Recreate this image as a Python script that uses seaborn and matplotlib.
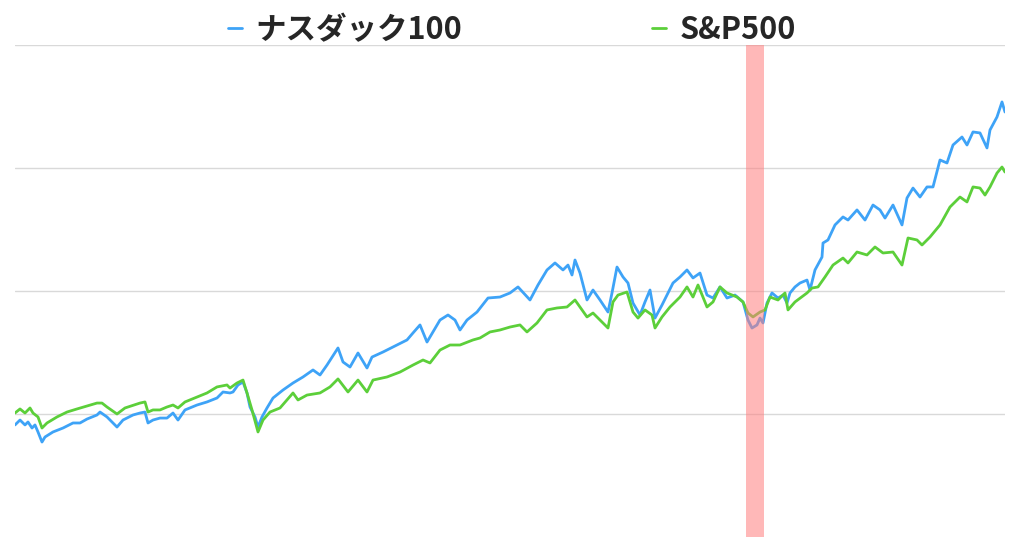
import matplotlib
matplotlib.use("Agg")
import matplotlib.pyplot as plt
import pandas as pd
import seaborn as sns

# trading-day index (0 = start of the window)
nasdaq_t = [0, 5, 10, 13, 17, 20, 23, 27, 30, 38, 48, 58, 65, 72, 82, 85, 92, 102, 108,
            118, 125, 130, 133, 138, 145, 152, 158, 163, 170, 182, 192, 202, 208, 215, 218,
            223, 228, 232, 235, 240, 243, 247, 252, 258, 268, 278, 288,
            298, 305, 312, 323, 328, 335, 343, 352, 357, 368, 382, 392, 398, 405, 412, 418,
            425, 433, 440, 445, 452, 462, 473, 485, 495, 503, 515, 523, 532, 540, 548, 553,
            557, 560, 565, 572, 578, 585, 593, 597, 602, 608, 613, 618, 625, 630, 635, 640,
            647, 653, 658, 665, 672, 678, 685, 692, 698, 705, 712, 720, 728, 733, 737, 742,
            745, 748, 752, 757, 763, 768, 772, 775, 780, 785, 792, 795, 800, 807, 808, 813,
            820, 828, 833, 842, 850, 858, 865, 870, 878, 887, 892, 898, 905, 912, 918, 925,
            932, 938, 947, 952, 958, 965, 972, 975, 982, 987, 990]
nasdaq = [91.1, 95.1, 91.1, 93.5, 88.6, 91.1, 85.4, 77.2, 81.3, 85.4, 88.6, 92.7, 92.7,
          95.9, 99.2, 101.6, 97.6, 89.4, 95.1, 99.2, 100.8, 101.6, 92.7, 95.1, 96.7, 96.7,
          100.8, 95.1, 103.3, 107.3, 109.8, 113.0, 117.9, 117.1, 117.9, 123.6, 126.0, 117.1,
          105.7, 97.6, 89.4, 97.6, 104.9, 113.0, 119.5, 125.2, 130.1, 135.8, 131.7, 139.8,
          153.7, 142.3, 138.2, 149.6, 137.4, 146.3, 150.4, 156.1, 160.2, 165.9, 172.4, 158.5,
          166.7, 176.4, 180.5, 176.4, 168.3, 176.4, 182.9, 194.3, 195.1, 198.4, 203.3, 192.7,
          204.9, 217.1, 222.8, 217.1, 221.1, 213.0, 225.2, 214.6, 192.7, 200.8, 192.7, 182.9,
          198.4, 219.5, 211.4, 206.5, 190.2, 180.5, 191.1, 200.8, 178.0, 188.6, 198.4, 206.5,
          211.4, 217.1, 210.6, 214.6, 196.7, 194.3, 203.3, 194.3, 196.7, 191.1, 176.4, 169.9,
          172.4, 178.0, 174.0, 190.2, 198.4, 194.3, 196.7, 190.2, 198.4, 203.3, 206.5, 208.9,
          200.8, 217.1, 227.6, 239.0, 241.5, 253.7, 260.2, 257.7, 265.9, 257.7, 269.9, 265.9,
          259.3, 269.9, 253.7, 275.6, 283.7, 276.4, 284.6, 284.6, 306.5, 304.1, 318.7, 325.2,
          318.7, 329.3, 328.5, 316.3, 330.9, 341.5, 353.7, 345.5]

sp500_t = [0, 5, 10, 15, 18, 23, 27, 32, 42, 52, 62, 72, 82, 87, 92, 102, 110, 122, 125,
           130, 133, 138, 145, 152, 158, 163, 170, 182, 192, 202, 212, 215, 222, 228, 232,
           237, 243, 248, 255, 265, 278, 283, 292, 305, 315,
           323, 333, 343, 352, 358, 372, 385, 398, 408, 415, 425, 435, 445, 458, 465, 475,
           485, 495, 505, 512, 522, 532, 542, 552, 560, 565, 572, 578, 587, 593, 598, 603,
           612, 618, 623, 630, 637, 640, 647, 655, 665, 672, 678, 683, 692, 698, 705, 712,
           722, 728, 733, 738, 745, 750, 755, 763, 770, 773, 780, 792, 797, 803, 810, 818,
           828, 833, 842, 852, 860, 868, 878, 887, 893, 902, 907, 915, 925, 935, 945, 952,
           958, 965, 970, 975, 982, 987, 990]
sp500 = [100.8, 104.1, 100.8, 104.9, 100.8, 97.6, 88.6, 92.7, 97.6, 101.6, 104.1, 106.5,
         108.9, 108.9, 105.7, 100.0, 104.9, 108.1, 108.9, 109.8, 101.6, 103.3, 103.3, 105.7,
         107.3, 104.9, 109.8, 113.8, 117.1, 122.0, 123.6, 121.1, 125.2, 127.6, 117.1, 103.3,
         85.4, 95.1, 101.6, 104.9, 117.1, 111.4, 115.4, 117.1, 122.0, 128.5, 117.9,
         127.6, 117.9, 127.6, 130.1, 134.1, 139.8, 143.9, 141.5, 152.0, 156.1, 156.1, 160.2,
         161.8, 166.7, 168.3, 170.7, 172.4, 166.7, 174.0, 184.6, 186.2, 187.0, 192.7, 187.0,
         178.9, 182.1, 174.8, 169.9, 191.1, 196.7, 199.2, 182.9, 178.0, 184.6, 180.5, 169.9,
         178.9, 187.0, 195.1, 203.3, 195.1, 204.9, 187.0, 191.1, 203.3, 198.4, 195.1, 191.1,
         182.1, 178.9, 182.9, 184.6, 195.1, 192.7, 198.4, 184.6, 191.1, 198.4, 202.4, 203.3,
         211.4, 221.1, 226.8, 222.8, 231.7, 229.3, 235.8, 230.9, 231.7, 221.1, 243.1, 241.5,
         237.4, 243.9, 253.7, 268.3, 276.4, 272.4, 284.6, 283.7, 278.0, 284.6, 295.9, 300.8,
         296.7]

series_names = ["ナスダック100", "S&P500"]
series_colors = ["#3ea3f7", "#5ccf3a"]
highlight_span = (731, 749)

df = pd.concat([
    pd.DataFrame({"t": nasdaq_t, "value": nasdaq, "index": series_names[0]}),
    pd.DataFrame({"t": sp500_t, "value": sp500, "index": series_names[1]}),
], ignore_index=True)

sns.set_theme(style="white")
plt.rcParams["font.family"] = ["Noto Sans CJK JP", "DejaVu Sans"]

fig = plt.figure(figsize=(10.24, 5.38), dpi=100)
ax = fig.add_axes([15 / 1024, 1 / 538, 990 / 1024, 492 / 538])

sns.lineplot(data=df, x="t", y="value", hue="index", palette=series_colors,
             hue_order=series_names, estimator=None, sort=False, linewidth=2.0, ax=ax)
ax.axvspan(*highlight_span, color="#ff7f7f", alpha=0.55, lw=0, zorder=5)

ax.set_xlim(0, 990)
ax.set_ylim(0, 400)
ax.set_yticks([100, 200, 300, 400])
ax.yaxis.grid(True, color="#d9d9d9", linewidth=1)
ax.xaxis.grid(False)
ax.tick_params(left=False, bottom=False, labelleft=False, labelbottom=False)
ax.set_xlabel("")
ax.set_ylabel("")
for spine in ax.spines.values():
    spine.set_visible(False)

handles, labels = ax.get_legend_handles_labels()
ax.get_legend().remove()
fig.legend(handles, labels, loc="upper center", bbox_to_anchor=(0.5, 1.025), ncol=2,
           frameon=False, handlelength=0.45, handletextpad=0.45, columnspacing=6.2,
           prop={"family": ["Noto Sans CJK JP", "DejaVu Sans"], "weight": "bold", "size": 22})

fig.savefig("out.png", dpi=100)
plt.close(fig)
